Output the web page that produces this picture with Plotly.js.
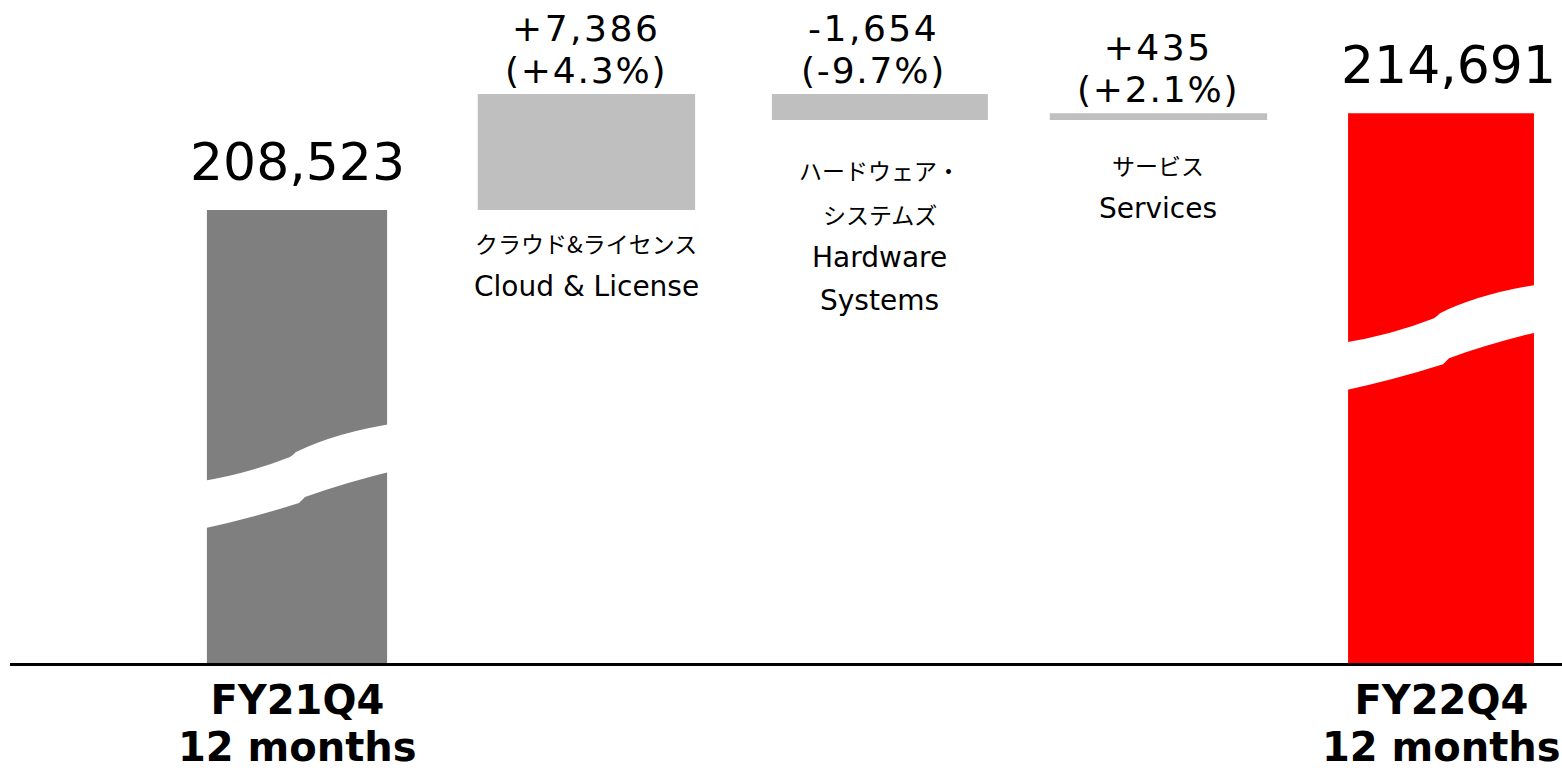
<!DOCTYPE html>
<html><head><meta charset="utf-8">
<script src="https://cdn.plot.ly/plotly-3.0.1.min.js"></script>
<style>html,body{margin:0;padding:0;background:#fff;}</style>
</head><body><div id="chart" style="width:1562px;height:771px;"></div>
<script>
// ---- data ----
const categories = ['FY21Q4', 'クラウド&ライセンス', 'ハードウェア・システムズ', 'サービス', 'FY22Q4'];
const measures = ['total', 'relative', 'relative', 'relative', 'total'];
const values = [208523, 7386, -1654, 435, 214691];
const changePct = [null, 4.3, -9.7, 2.1, null];
const tickLabels = ['FY21Q4<br>12 months', '', '', '', 'FY22Q4<br>12 months'];
const labelsJP = ['', 'クラウド&ライセンス', 'ハードウェア・<br>システムズ', 'サービス', ''];
const labelsEN = ['', 'Cloud & License', 'Hardware<br>Systems', 'Services', ''];

// ---- derived waterfall geometry ----
const xNudge = [0, 0.012, 0.038, 0.012, 0];   // layout: slight uneven column spacing
const xs = categories.map((_, i) => i + xNudge[i]);
const bases = [], tops = [], bottoms = [];
let run = 0;
values.forEach((v, i) => {
  if (measures[i] === 'total') { bases.push(0); run = v; tops.push(v); bottoms.push(0); }
  else { bases.push(run); const b = run; run += v; tops.push(Math.max(b, run)); bottoms.push(Math.min(b, run)); }
});

const barColors = ['#7f7f7f', '#bfbfbf', '#bfbfbf', '#bfbfbf', '#ff0000'];
const barWidths = [0.63, 0.76, 0.755, 0.76, 0.65];
const labelXShift = [0, 0, -6, 0, 7];

const fmt = v => v.toLocaleString('en-US');
const sp = (t, em) => `<span style="letter-spacing:${em}em">${t}</span>`;

const annotations = [];
const tightLines = [];   // [annotation index, line pitch in em]
values.forEach((v, i) => {
  if (measures[i] === 'total') {
    annotations.push({x: xs[i], y: tops[i], xref: 'x', yref: 'y', text: fmt(v), showarrow: false,
      xshift: labelXShift[i],
      yanchor: 'middle', yshift: 48, font: {family: 'DejaVu Sans', size: 52, color: '#000'}});
  } else {
    const sign = v >= 0 ? '+' : '-';
    const pct = changePct[i];
    const l1 = sign + fmt(Math.abs(v));
    const l2 = '(' + (pct >= 0 ? '+' : '-') + Math.abs(pct).toFixed(1) + '%)';
    tightLines.push([annotations.length, 1.18]);
    annotations.push({x: xs[i], y: tops[i], xref: 'x', yref: 'y',
      text: sp(l1, 0.07) + '<br>' + sp(l2, 0.05), showarrow: false,
      xshift: labelXShift[i],
      yanchor: 'top', yshift: 86, borderpad: 0, borderwidth: 0,
      font: {family: 'DejaVu Sans', size: 36, color: '#000'}});
  }
});

// category labels below the change bars
const firstLineOffset = [0, 33, 50, 45, 0];
const linePitch = 43.5;
labelsJP.forEach((jp, i) => {
  if (!jp) return;
  const lines = [];
  jp.split('<br>').forEach(t => lines.push({t: t, jp: true}));
  labelsEN[i].split('<br>').forEach(t => lines.push({t: t, jp: false}));
  lines.forEach((ln, k) => {
    annotations.push({x: xs[i], y: bottoms[i], xref: 'x', yref: 'y', showarrow: false,
      text: ln.t,
      yanchor: 'middle', yshift: -(firstLineOffset[i] + k * linePitch),
      font: ln.jp ? {family: 'Noto Sans CJK JP', size: 23, color: '#000'}
                  : {family: 'DejaVu Sans', size: 28, color: '#000'}});
  });
});

// x tick labels (bold, two lines)
tickLabels.forEach((lab, i) => {
  if (!lab) return;
  tightLines.push([annotations.length, 1.18]);
  annotations.push({x: xs[i], y: 0, xref: 'x', yref: 'paper', showarrow: false,
    text: lab,
    yanchor: 'top', yshift: -14, borderpad: 0, borderwidth: 0,
    font: {family: 'DejaVu Sans', size: 40, weight: 'bold', color: '#000'}});
});

// axis-break decoration (white wavy band), template in screen pixels (y down)
const breakTemplate = [
  ['M', -100, 5], ['Q', -50, -3, -7, -20], ['Q', -4, -22, -1, -25], ['Q', 40, -45, 100, -54],
  ['L', 100, -7], ['Q', 50, 5, 8, 20], ['Q', 5, 23, 2, 26], ['Q', -45, 41, -100, 53], ['Z']
];
const breakPath = breakTemplate.map(c => {
  const out = [c[0]];
  for (let j = 1; j < c.length; j += 2) out.push(c[j] + ',' + (-c[j + 1]));
  return out.join(' ');
}).join(' ');
const breakAt = [0.2805, null, null, null, 0.49];
const shapes = [];
breakAt.forEach((p, i) => {
  if (p === null) return;
  shapes.push({type: 'path', xref: 'x', yref: 'paper', xsizemode: 'pixel', ysizemode: 'pixel',
    xanchor: xs[i], yanchor: p, path: breakPath, fillcolor: '#ffffff', line: {width: 0}, layer: 'above'});
});

const trace = {
  type: 'bar', x: xs, y: values, base: bases,
  marker: {color: barColors, line: {width: 0}}, width: barWidths, hoverinfo: 'skip',
  text: categories, textposition: 'none'
};

const layout = {
  width: 1562, height: 771,
  margin: {l: 10, r: 0, t: 0, b: 108},
  paper_bgcolor: '#fff', plot_bgcolor: '#fff',
  showlegend: false,
  xaxis: {range: [-1.0035, 4.423], showgrid: false, zeroline: false, showticklabels: false,
    showline: true, linewidth: 3, linecolor: '#000', ticks: '', fixedrange: true},
  yaxis: {range: [179669, 221898], visible: false, fixedrange: true},
  annotations: annotations,
  shapes: shapes
};

Plotly.newPlot('chart', [trace], layout, {displayModeBar: false, staticPlot: true}).then(gd => {
  // set the leading of multi-line labels to the slide's compact line spacing
  const groups = gd.querySelectorAll('.annotation');
  tightLines.forEach(([idx, pitch]) => {
    const g = groups[idx];
    if (!g) return;
    const lines = g.querySelectorAll('.annotation-text tspan.line');
    lines.forEach((ln, k) => ln.setAttribute('dy', (k * pitch) + 'em'));
  });
});
</script></body></html>
